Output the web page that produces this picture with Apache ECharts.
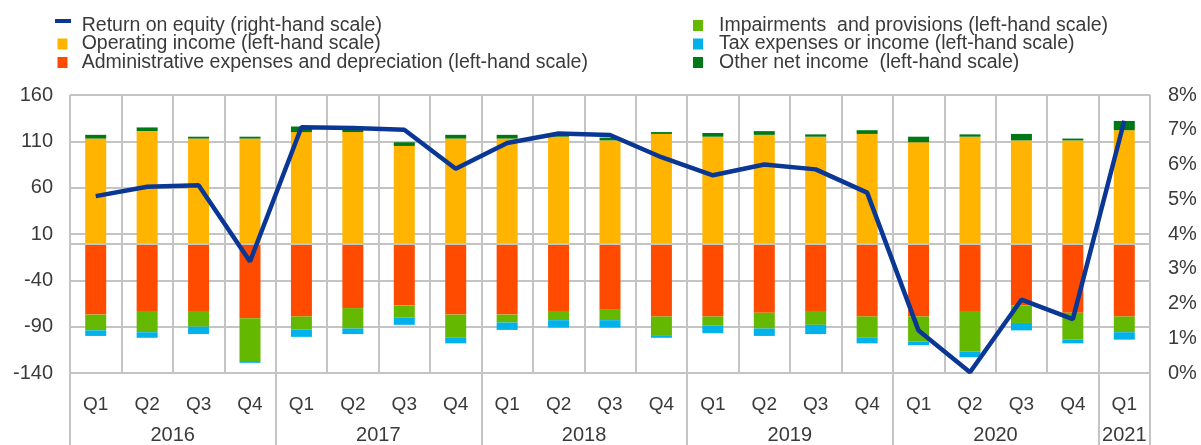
<!DOCTYPE html>
<html>
<head>
<meta charset="utf-8">
<script src="https://cdn.jsdelivr.net/npm/echarts@6/dist/echarts.min.js"></script>
<style>
  html, body { margin: 0; padding: 0; background: #fff; }
  #main { width: 1201px; height: 445px; }
</style>
</head>
<body>
<div id="main"></div>
<script>
// quarters and years (x axis)
var quarters = ['Q1','Q2','Q3','Q4','Q1','Q2','Q3','Q4','Q1','Q2','Q3','Q4',
                'Q1','Q2','Q3','Q4','Q1','Q2','Q3','Q4','Q1'];
var years = ['2016','2016','2016','2016','2017','2017','2017','2017','2018','2018','2018','2018',
             '2019','2019','2019','2019','2020','2020','2020','2020','2021'];

// left-hand scale
var operatingIncome = [113,121,113,113, 120,120,105,113, 113,115,111,118, 115,117,115,118, 109,115,111,111, 122];
var otherNetIncome  = [4,4,2,2, 6,4,4,4, 4,2,3,2, 4,4,2.5,4, 6,2.5,7,2, 10];
var adminExpenses   = [-77,-73,-73,-81, -79,-70,-67,-77, -77,-73,-71,-79, -79,-75,-73,-79, -79,-73,-67,-75, -79];
var impairments     = [-17,-23,-17,-46, -14,-22,-13,-25, -8.5,-10,-12,-21, -10,-17,-15,-23, -27,-44,-19,-29, -17];
var taxExpenses     = [-6,-6,-8,-2, -8,-6,-8,-6, -8,-8,-8,-2, -8,-8,-10,-6, -4,-6,-8,-4, -8];

// right-hand scale, percent
var returnOnEquity  = [5.09,5.36,5.4,3.21, 7.07,7.05,7.0,5.88, 6.62,6.89,6.85,6.21, 5.69,6.0,5.86,5.19, 1.22,0.02,2.11,1.55, 7.26];

var names = {
  roe: 'Return on equity (right-hand scale)',
  op: 'Operating income (left-hand scale)',
  adm: 'Administrative expenses and depreciation (left-hand scale)',
  imp: 'Impairments  and provisions (left-hand scale)',
  tax: 'Tax expenses or income (left-hand scale)',
  oth: 'Other net income  (left-hand scale)'
};

var gridColor = '#c4c4c4';
var textColor = '#3a3a3a';
var font = 'Liberation Sans, Arial, sans-serif';

// legend icons: blue dash near the top, colour boxes in the middle (16x13 box)
var dashIcon = 'path://M0,0H16V4H0Z M0,13h0.001v0.001h-0.001Z';
var boxIcon = 'path://M2.5,1H12.5V12H2.5Z M0,0h0.001v0.001h-0.001Z M16,13h0.001v0.001h-0.001Z';

var chart = echarts.init(document.getElementById('main'));

function bar(name, data, color) {
  return {
    name: name, type: 'bar', stack: 'total', data: data,
    barWidth: 21, xAxisIndex: 0, yAxisIndex: 0, z: 3,
    itemStyle: { color: color },
    emphasis: { disabled: true }
  };
}

var option = {
  animation: false,
  legend: [
    {
      orient: 'vertical', left: 55, top: 15.5, padding: 0,
      itemWidth: 16, itemHeight: 13, itemGap: -1.5, selectedMode: false,
      textStyle: { fontFamily: font, fontSize: 19.5, color: textColor, padding: [0, 0, 0, 5.7] },
      data: [
        { name: names.roe, icon: dashIcon },
        { name: names.op, icon: boxIcon },
        { name: names.adm, icon: boxIcon }
      ]
    },
    {
      orient: 'vertical', left: 693, top: 15.5, padding: 0,
      itemWidth: 10, itemHeight: 11, itemGap: -1.5, selectedMode: false, icon: 'rect',
      textStyle: { fontFamily: font, fontSize: 19.5, color: textColor, padding: [0, 0, 0, 11] },
      data: [names.imp, names.tax, names.oth]
    }
  ],
  grid: { left: 70, right: 51, top: 95, bottom: 70 },
  xAxis: [
    {
      type: 'category', data: quarters, position: 'bottom',
      axisLine: { onZero: false, lineStyle: { color: gridColor, width: 2 } },
      axisTick: { show: false },
      axisLabel: { interval: 0, margin: 22, fontFamily: font, fontSize: 19, color: textColor },
      splitLine: { show: true, interval: 0, lineStyle: { color: gridColor, width: 2 } }
    },
    {
      type: 'category', data: years, position: 'bottom',
      axisLine: { show: false, onZero: false },
      axisTick: {
        show: true, length: 72,
        interval: function (i) { return i % 4 === 0; },
        lineStyle: { color: gridColor, width: 2 }
      },
      axisLabel: {
        interval: 0, margin: 52, fontFamily: font, fontSize: 20, color: textColor,
        formatter: function (v, i) {
          if (i === 20) return v;
          if (i % 4 === 1) return '{s|' + v + '}';
          return '';
        },
        rich: { s: { padding: [0, 0, 0, 51], fontFamily: font, fontSize: 20, color: textColor } }
      },
      splitLine: { show: false }
    }
  ],
  yAxis: [
    {
      type: 'value', min: -140, max: 160, interval: 50,
      axisLine: { show: false }, axisTick: { show: false },
      axisLabel: { margin: 17, fontFamily: font, fontSize: 20, color: textColor },
      splitLine: { lineStyle: { color: gridColor, width: 2 } }
    },
    {
      type: 'value', min: 0, max: 8, interval: 1,
      axisLine: { show: false }, axisTick: { show: false },
      axisLabel: { margin: 18, formatter: '{value}%', fontFamily: font, fontSize: 20, color: textColor },
      splitLine: { show: false }
    }
  ],
  series: [
    {
      name: names.roe, type: 'line', data: returnOnEquity,
      xAxisIndex: 0, yAxisIndex: 1, symbol: 'none', z: 5,
      lineStyle: { color: '#0a3796', width: 4.5 },
      itemStyle: { color: '#0a3796' },
      emphasis: { disabled: true }
    },
    bar(names.op, operatingIncome, '#FFB400'),
    bar(names.adm, adminExpenses, '#FF4B00'),
    bar(names.imp, impairments, '#65B800'),
    bar(names.tax, taxExpenses, '#00B1EA'),
    bar(names.oth, otherNetIncome, '#007816'),
    {
      // zero line, under the bars
      type: 'line', data: [], z: 1, xAxisIndex: 0, yAxisIndex: 0,
      markLine: {
        silent: true, symbol: 'none', label: { show: false },
        lineStyle: { color: gridColor, width: 2, type: 'solid' },
        data: [{ yAxis: 0 }]
      }
    }
  ]
};

chart.setOption(option);
</script>
</body>
</html>
